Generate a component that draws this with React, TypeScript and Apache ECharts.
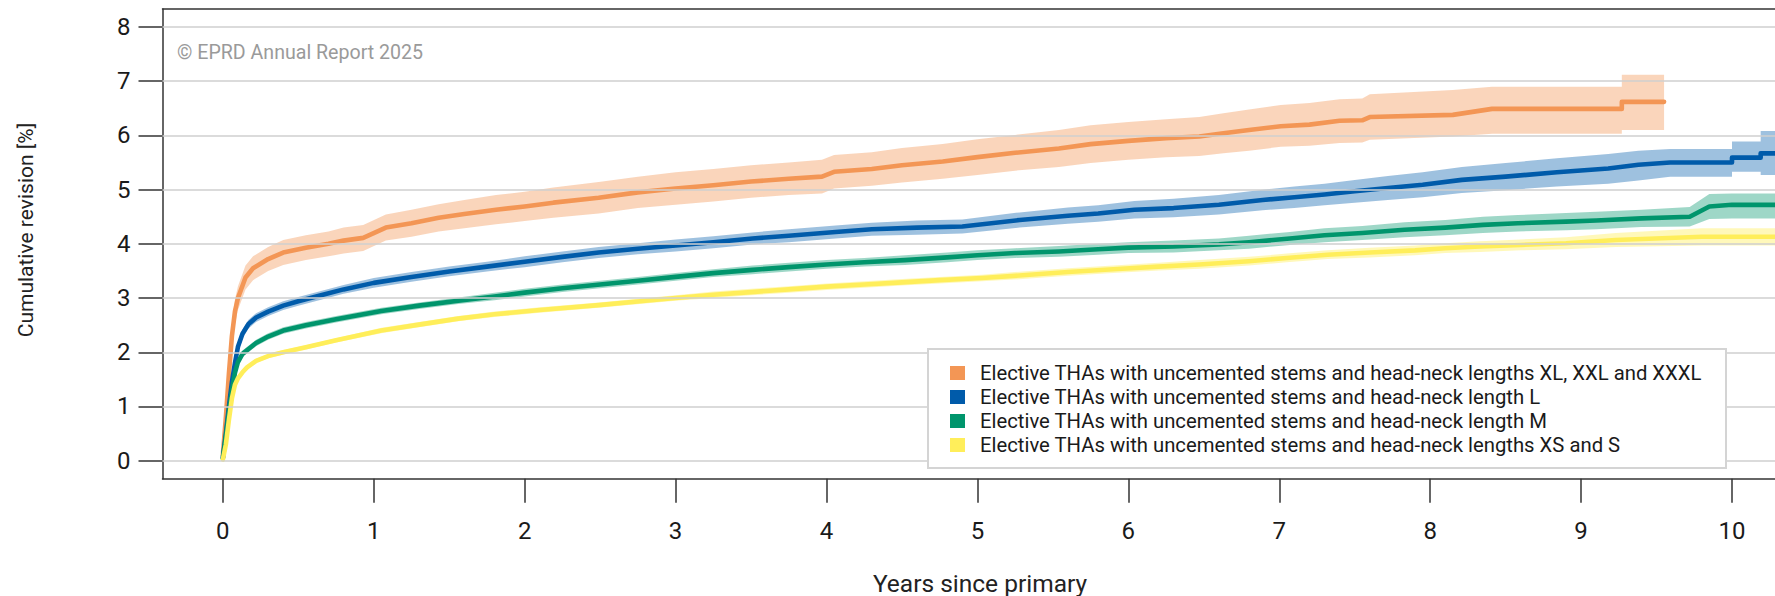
import React, { useEffect, useRef } from "react";
import * as echarts from "echarts";

const SERIES_NAMES = [
  "Elective THAs with uncemented stems and head-neck lengths XL, XXL and XXXL",
  "Elective THAs with uncemented stems and head-neck length L",
  "Elective THAs with uncemented stems and head-neck length M",
  "Elective THAs with uncemented stems and head-neck lengths XS and S",
];
const LINE_COLORS = ["#F39655", "#005BAA", "#00956C", "#FFEE5A"];
const BAND_COLORS = [
  "rgba(243,150,85,0.40)",
  "rgba(0,91,170,0.38)",
  "rgba(0,149,108,0.38)",
  "rgba(255,238,90,0.42)",
];

const X_TICKS = [0, 1, 2, 3, 4, 5, 6, 7, 8, 9, 10];
const Y_TICKS = [0, 1, 2, 3, 4, 5, 6, 7, 8];

// XL, XXL and XXXL
const T_XL = [0, 0.02, 0.04, 0.06, 0.08, 0.1, 0.15, 0.2, 0.3, 0.4, 0.55, 0.7, 0.8, 0.93, 1.08, 1.25, 1.43, 1.6, 1.81, 2.0, 2.19, 2.49, 2.75, 3.0, 3.25, 3.5, 3.75, 3.97, 4.05, 4.3, 4.5, 4.77, 5.0, 5.25, 5.54, 5.75, 6.0, 6.25, 6.47, 6.63, 6.8, 7.01, 7.2, 7.4, 7.55, 7.6, 8.15, 8.41, 9.27, 9.27, 9.55];
const EST_XL = [0.1, 0.8, 1.6, 2.3, 2.75, 3.0, 3.38, 3.55, 3.72, 3.84, 3.93, 4.0, 4.06, 4.11, 4.3, 4.38, 4.48, 4.55, 4.63, 4.69, 4.76, 4.85, 4.95, 5.02, 5.08, 5.15, 5.2, 5.24, 5.33, 5.38, 5.45, 5.52, 5.6, 5.68, 5.76, 5.84, 5.9, 5.95, 5.98, 6.04, 6.1, 6.17, 6.2, 6.27, 6.28, 6.34, 6.38, 6.49, 6.49, 6.62, 6.62];
const LO_XL = [0.05, 0.65, 1.4, 2.08, 2.52, 2.78, 3.16, 3.33, 3.5, 3.61, 3.7, 3.77, 3.82, 3.87, 4.06, 4.13, 4.23, 4.29, 4.36, 4.42, 4.48, 4.56, 4.66, 4.72, 4.78, 4.85, 4.9, 4.93, 5.02, 5.07, 5.13, 5.2, 5.27, 5.35, 5.42, 5.49, 5.55, 5.6, 5.62, 5.67, 5.72, 5.79, 5.81, 5.86, 5.87, 5.92, 5.98, 6.03, 6.03, 6.1, 6.1];
const HI_XL = [0.15, 0.95, 1.8, 2.52, 2.98, 3.22, 3.6, 3.77, 3.94, 4.07, 4.16, 4.23, 4.3, 4.35, 4.54, 4.63, 4.73, 4.81, 4.9, 4.96, 5.04, 5.14, 5.24, 5.32, 5.38, 5.45, 5.5, 5.55, 5.64, 5.69, 5.77, 5.84, 5.93, 6.01, 6.1, 6.19, 6.25, 6.3, 6.34, 6.41, 6.48, 6.56, 6.6, 6.67, 6.68, 6.76, 6.84, 6.9, 6.9, 7.12, 7.12];

// L
const T_L = [0, 0.02, 0.04, 0.06, 0.08, 0.1, 0.13, 0.17, 0.22, 0.3, 0.4, 0.5, 0.65, 0.8, 1.0, 1.25, 1.5, 1.75, 2.0, 2.25, 2.49, 2.75, 3.0, 3.25, 3.51, 3.75, 4.06, 4.3, 4.6, 4.9, 5.28, 5.6, 5.8, 6.04, 6.3, 6.6, 6.89, 7.1, 7.3, 7.5, 7.72, 7.95, 8.21, 8.5, 8.84, 9.18, 9.38, 9.59, 10.0, 10.0, 10.19, 10.19, 10.35];
const EST_L = [0.05, 0.5, 1.0, 1.45, 1.8, 2.1, 2.34, 2.52, 2.64, 2.75, 2.86, 2.94, 3.05, 3.16, 3.28, 3.39, 3.49, 3.58, 3.67, 3.76, 3.84, 3.91, 3.97, 4.03, 4.1, 4.15, 4.22, 4.27, 4.3, 4.32, 4.44, 4.52, 4.56, 4.63, 4.66, 4.72, 4.81, 4.86, 4.91, 4.97, 5.03, 5.09, 5.18, 5.24, 5.32, 5.39, 5.46, 5.5, 5.5, 5.59, 5.59, 5.67, 5.67];
const LO_L = [0.03, 0.44, 0.93, 1.37, 1.72, 2.02, 2.26, 2.44, 2.56, 2.67, 2.78, 2.86, 2.97, 3.08, 3.19, 3.3, 3.4, 3.49, 3.57, 3.66, 3.74, 3.81, 3.86, 3.92, 3.99, 4.03, 4.1, 4.15, 4.17, 4.19, 4.3, 4.37, 4.41, 4.47, 4.49, 4.54, 4.62, 4.66, 4.71, 4.76, 4.81, 4.86, 4.94, 4.99, 5.06, 5.11, 5.17, 5.24, 5.24, 5.33, 5.33, 5.27, 5.27];
const HI_L = [0.07, 0.56, 1.07, 1.53, 1.88, 2.18, 2.42, 2.6, 2.72, 2.83, 2.94, 3.02, 3.13, 3.24, 3.37, 3.48, 3.58, 3.67, 3.77, 3.86, 3.94, 4.01, 4.08, 4.14, 4.21, 4.27, 4.34, 4.39, 4.43, 4.45, 4.58, 4.67, 4.71, 4.79, 4.83, 4.9, 5.0, 5.06, 5.11, 5.18, 5.25, 5.32, 5.42, 5.49, 5.58, 5.66, 5.72, 5.75, 5.75, 5.89, 5.89, 6.08, 6.08];

// M
const T_M = [0, 0.02, 0.04, 0.06, 0.08, 0.1, 0.13, 0.17, 0.22, 0.3, 0.4, 0.55, 0.75, 1.05, 1.3, 1.56, 1.8, 2.0, 2.25, 2.5, 2.75, 3.0, 3.25, 3.51, 3.75, 4.0, 4.25, 4.52, 4.8, 5.0, 5.25, 5.54, 5.8, 6.0, 6.3, 6.6, 6.8, 7.07, 7.3, 7.55, 7.83, 8.1, 8.35, 8.58, 8.9, 9.1, 9.4, 9.72, 9.85, 10.0, 10.35];
const EST_M = [0.05, 0.45, 0.9, 1.3, 1.62, 1.82, 1.97, 2.06, 2.17, 2.29, 2.4, 2.5, 2.61, 2.76, 2.86, 2.95, 3.03, 3.1, 3.18, 3.25, 3.32, 3.39, 3.46, 3.52, 3.57, 3.62, 3.66, 3.7, 3.75, 3.79, 3.83, 3.86, 3.9, 3.93, 3.95, 3.99, 4.03, 4.1, 4.16, 4.2, 4.26, 4.3, 4.35, 4.38, 4.41, 4.43, 4.47, 4.5, 4.69, 4.72, 4.72];
const LO_M = [0.03, 0.4, 0.84, 1.24, 1.56, 1.76, 1.91, 2.0, 2.11, 2.23, 2.34, 2.44, 2.55, 2.7, 2.8, 2.89, 2.96, 3.03, 3.11, 3.18, 3.25, 3.32, 3.39, 3.44, 3.49, 3.54, 3.58, 3.61, 3.66, 3.7, 3.74, 3.76, 3.8, 3.83, 3.84, 3.88, 3.91, 3.98, 4.03, 4.07, 4.12, 4.16, 4.2, 4.23, 4.25, 4.27, 4.31, 4.32, 4.46, 4.47, 4.47];
const HI_M = [0.07, 0.5, 0.96, 1.36, 1.68, 1.88, 2.03, 2.12, 2.23, 2.35, 2.46, 2.56, 2.67, 2.82, 2.92, 3.01, 3.1, 3.17, 3.25, 3.32, 3.39, 3.46, 3.53, 3.6, 3.65, 3.7, 3.74, 3.79, 3.84, 3.88, 3.92, 3.96, 4.0, 4.03, 4.06, 4.1, 4.15, 4.22, 4.29, 4.33, 4.4, 4.44, 4.5, 4.53, 4.57, 4.59, 4.63, 4.68, 4.92, 4.93, 4.93];

// XS and S
const T_S = [0, 0.02, 0.04, 0.06, 0.08, 0.1, 0.13, 0.16, 0.22, 0.3, 0.4, 0.55, 0.75, 1.05, 1.3, 1.56, 1.8, 2.1, 2.49, 2.8, 3.0, 3.25, 3.5, 3.75, 4.0, 4.25, 4.5, 4.75, 5.03, 5.3, 5.6, 5.9, 6.2, 6.47, 6.8, 7.05, 7.32, 7.6, 7.9, 8.1, 8.33, 8.6, 8.9, 9.23, 9.8, 10.35];
const EST_S = [0.02, 0.3, 0.75, 1.15, 1.4, 1.52, 1.63, 1.72, 1.84, 1.93, 2.0, 2.09, 2.22, 2.4, 2.51, 2.62, 2.7, 2.78, 2.87, 2.95, 3.0, 3.06, 3.11, 3.16, 3.21, 3.25, 3.29, 3.33, 3.37, 3.42, 3.48, 3.53, 3.58, 3.62, 3.68, 3.74, 3.8, 3.84, 3.88, 3.92, 3.95, 3.98, 4.01, 4.07, 4.13, 4.13];
const LO_S = [0.01, 0.27, 0.71, 1.11, 1.36, 1.48, 1.59, 1.68, 1.8, 1.89, 1.96, 2.05, 2.18, 2.35, 2.46, 2.57, 2.65, 2.73, 2.82, 2.9, 2.95, 3.0, 3.05, 3.1, 3.15, 3.19, 3.23, 3.27, 3.31, 3.35, 3.41, 3.46, 3.51, 3.54, 3.6, 3.66, 3.72, 3.75, 3.79, 3.83, 3.85, 3.88, 3.9, 3.94, 3.97, 3.97];
const HI_S = [0.03, 0.33, 0.79, 1.19, 1.44, 1.56, 1.67, 1.76, 1.88, 1.97, 2.04, 2.13, 2.26, 2.45, 2.56, 2.67, 2.75, 2.83, 2.92, 3.0, 3.05, 3.12, 3.17, 3.22, 3.27, 3.31, 3.35, 3.39, 3.43, 3.49, 3.55, 3.6, 3.65, 3.7, 3.76, 3.82, 3.88, 3.93, 3.97, 4.01, 4.05, 4.08, 4.12, 4.2, 4.29, 4.29];

const FONT = "Roboto, 'Noto Sans', sans-serif";

export default function App() {
  const ref = useRef<HTMLDivElement>(null);

  useEffect(() => {
    document.body.style.margin = "0";
    if (!ref.current) return;
    const chart = echarts.init(ref.current, null, { renderer: "svg" });

    const groups = [
      { t: T_XL, est: EST_XL, lo: LO_XL, hi: HI_XL },
      { t: T_L, est: EST_L, lo: LO_L, hi: HI_L },
      { t: T_M, est: EST_M, lo: LO_M, hi: HI_M },
      { t: T_S, est: EST_S, lo: LO_S, hi: HI_S },
    ];

    const series: any[] = [];
    series.push({
      type: "line",
      name: "grid",
      data: [[X_TICKS[0], Y_TICKS[0]]],
      symbol: "none",
      lineStyle: { opacity: 0 },
      silent: true,
      z: 1,
      markLine: {
        silent: true,
        symbol: ["none", "none"],
        label: { show: false },
        lineStyle: { color: "#cfcfcf", width: 1.5, type: "solid" },
        data: Y_TICKS.map((v) => ({ yAxis: v })),
      },
    });
    groups.forEach((g, k) => {
      series.push({
        type: "custom",
        name: "band" + k,
        silent: true,
        clip: true,
        z: 2,
        data: [[g.t[0], g.lo[0]]],
        encode: { x: 0, y: 1 },
        renderItem: (params: any, api: any) => {
          const pts: number[][] = [];
          for (let i = 0; i < g.t.length; i++) pts.push(api.coord([g.t[i], g.hi[i]]));
          for (let i = g.t.length - 1; i >= 0; i--) pts.push(api.coord([g.t[i], g.lo[i]]));
          return {
            type: "polygon",
            shape: { points: pts },
            style: { fill: BAND_COLORS[k], stroke: "none" },
          };
        },
      });
    });
    groups.forEach((g, k) => {
      series.push({
        type: "line",
        name: SERIES_NAMES[k],
        symbol: "none",
        color: LINE_COLORS[k],
        itemStyle: { color: LINE_COLORS[k] },
        lineStyle: { width: 4.6, color: LINE_COLORS[k], cap: "round", join: "round" },
        data: g.t.map((t, i) => [t, g.est[i]]),
        z: 3,
      });
    });

    const axisLineStyle = { color: "#333333", width: 1.5 };

    chart.setOption({
      animation: false,
      backgroundColor: "#ffffff",
      textStyle: { fontFamily: FONT },
      grid: {
        left: 162.5,
        top: 9,
        right: 0,
        bottom: 117.3,
        show: false,
      },
      xAxis: [
        {
          type: "value",
          min: -0.4,
          max: 10.285,
          position: "bottom",
          axisLine: { show: true, onZero: false, lineStyle: axisLineStyle },
          axisTick: {
            show: true,
            inside: false,
            length: 24,
            customValues: X_TICKS,
            lineStyle: axisLineStyle,
          },
          axisLabel: {
            customValues: X_TICKS,
            fontSize: 24,
            color: "#1a1a1a",
            margin: 40,
            fontFamily: FONT,
          },
          splitLine: { show: false },
        },
        {
          type: "value",
          min: -0.4,
          max: 10.285,
          position: "top",
          axisLine: { show: true, onZero: false, lineStyle: axisLineStyle },
          axisTick: { show: false },
          axisLabel: { show: false },
          splitLine: { show: false },
        },
      ],
      yAxis: {
        type: "value",
        min: -0.333,
        max: 8.333,
        axisLine: { show: true, onZero: false, lineStyle: axisLineStyle },
        axisTick: {
          show: true,
          inside: false,
          length: 24,
          customValues: Y_TICKS,
          lineStyle: axisLineStyle,
        },
        axisLabel: {
          customValues: Y_TICKS,
          fontSize: 24,
          color: "#1a1a1a",
          margin: 32,
          fontFamily: FONT,
        },
        splitLine: { show: false },
      },
      legend: {
        show: true,
        orient: "vertical",
        left: 950,
        top: 363,
        padding: 0,
        selectedMode: false,
        itemWidth: 15,
        itemHeight: 14,
        itemGap: 4,
        data: SERIES_NAMES.map((n) => ({ name: n, icon: "rect" })),
        textStyle: {
          fontSize: 20.3,
          lineHeight: 20,
          color: "#1a1a1a",
          fontFamily: FONT,
          padding: [0, 0, 0, 10],
        },
        z: 12,
      },
      graphic: [
        {
          type: "rect",
          z: 10,
          shape: { x: 928, y: 349, width: 798, height: 119 },
          style: { fill: "#ffffff", stroke: "#d4d4d4", lineWidth: 2 },
        },
        {
          type: "text",
          z: 5,
          x: 177,
          y: 52,
          style: {
            text: "© EPRD Annual Report 2025",
            fontSize: 19.6,
            fontFamily: FONT,
            fill: "#9a9a9a",
            textVerticalAlign: "middle",
          },
        },
        {
          type: "text",
          x: 26,
          y: 230,
          rotation: Math.PI / 2,
          style: {
            text: "Cumulative revision [%]",
            fontSize: 21,
            fontFamily: FONT,
            fill: "#222222",
            textAlign: "center",
            textVerticalAlign: "middle",
          },
        },
        {
          type: "text",
          x: 980,
          y: 583,
          style: {
            text: "Years since primary",
            fontSize: 24.5,
            fontFamily: FONT,
            fill: "#222222",
            textAlign: "center",
            textVerticalAlign: "middle",
          },
        },
      ],
      series,
    });

    return () => {
      chart.dispose();
    };
  }, []);

  return <div ref={ref} style={{ width: 1775, height: 596 }} />;
}
